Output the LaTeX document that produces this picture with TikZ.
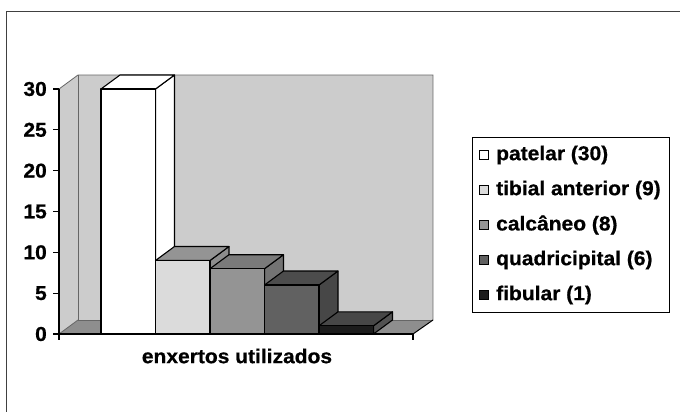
\documentclass[tikz,border=0pt]{standalone}
\usepackage{fontspec}
\setmainfont{Liberation Sans}
\newfontfamily\chartfont{Liberation Sans}[FakeStretch=1.05,FakeBold=0.7]
\begin{document}
\begin{tikzpicture}[x=1pt,y=-1pt,
  lbl/.style={font=\chartfont\fontsize{20}{22}\selectfont\bfseries, inner sep=0pt},
  face/.style={draw=black, line width=1.1pt, line join=round},
  wall/.style={draw=gray!80!black, line width=0.8pt},
  legsq/.style={draw=black, line width=0.8pt, minimum size=9pt, inner sep=0pt}]
\useasboundingbox (0,0) rectangle (680,412);
\fill[white] (0,0) rectangle (680,412);
% outer frame (top and left visible)
\draw[line width=1.4pt, draw=black!75] (6.5,420) -- (6.5,11.5) -- (690,11.5);
% walls
\definecolor{wallc}{HTML}{CCCCCC}
\definecolor{floorc}{HTML}{8E8E8E}
\coordinate (fl) at (59,334);
\coordinate (fr) at (413,334);
\coordinate (bl) at (78,320);
\coordinate (br) at (433,320);
\coordinate (tl) at (78,75);
\coordinate (tr) at (433,75);
\coordinate (ftl) at (59,89);
\fill[wallc] (fl) -- (ftl) -- (tl) -- (bl) -- cycle;
\fill[wallc] (bl) -- (tl) -- (tr) -- (br) -- cycle;
\fill[floorc] (fl) -- (bl) -- (br) -- (fr) -- cycle;
\draw[wall] (ftl) -- (tl) -- (tr) -- (br);
\draw[wall] (tl) -- (bl) -- (br);
\draw[wall] (fl) -- (bl);
\draw[black, line width=1pt] (br) -- (fr);
% bars
\newcommand{\mybar}[7]{%
  \filldraw[face, fill=#6] (#2,334) -- (#2,#3) -- ++(19,-14) -- (#2+19,320) -- cycle;
  \filldraw[face, fill=#5] (#1,#3) -- (#2,#3) -- ++(19,-14) -- (#1+19,#3-14) -- cycle;
  \filldraw[face, fill=#4] (#1,334) rectangle (#2,#3);
}
\mybar{101}{155.5}{89}{white}{white}{white}{}
\mybar{155.5}{210}{260.5}{black!14}{black!42}{black!45}{}
\mybar{210}{264.5}{268.7}{black!42}{black!52}{black!55}{}
\mybar{264.5}{319}{285}{black!62}{black!70}{black!72}{}
\mybar{319}{373.5}{325.8}{black!89}{black!72}{black!68}{}
% axes
\draw[black, line width=1.1pt] (ftl) -- (fl) -- (fr);
\draw[black, line width=1.1pt] (fl) -- ++(0,6);
\draw[black, line width=1.1pt] (fr) -- ++(0,6);
\foreach \v/\n in {0/t0,5/t5,10/t10,15/t15,20/t20,25/t25,30/t30}{
  \draw[black, line width=1.1pt] (53,334-\v*8.167) -- (59,334-\v*8.167);
  \node[lbl, anchor=east] (\n) at (47,334-\v*8.167) {\v};
}
\node[lbl] (xlab) at (237,356) {enxertos utilizados};
% legend
\node[draw=black, line width=1pt, minimum width=197pt, minimum height=175pt, anchor=north west, inner sep=0pt] (leg) at (472,137) {};
\foreach \i/\c/\t in {0/white/patelar (30),1/black!14/tibial anterior (9),2/black!42/calcâneo (8),3/black!62/quadricipital (6),4/black!89/fibular (1)}{
  \node[legsq, fill=\c] (sq\i) at (483.5,155+\i*35) {};
  \node[lbl, anchor=west] (lt\i) at (496,155+\i*35) {\t};
}
\end{tikzpicture}
\end{document}
